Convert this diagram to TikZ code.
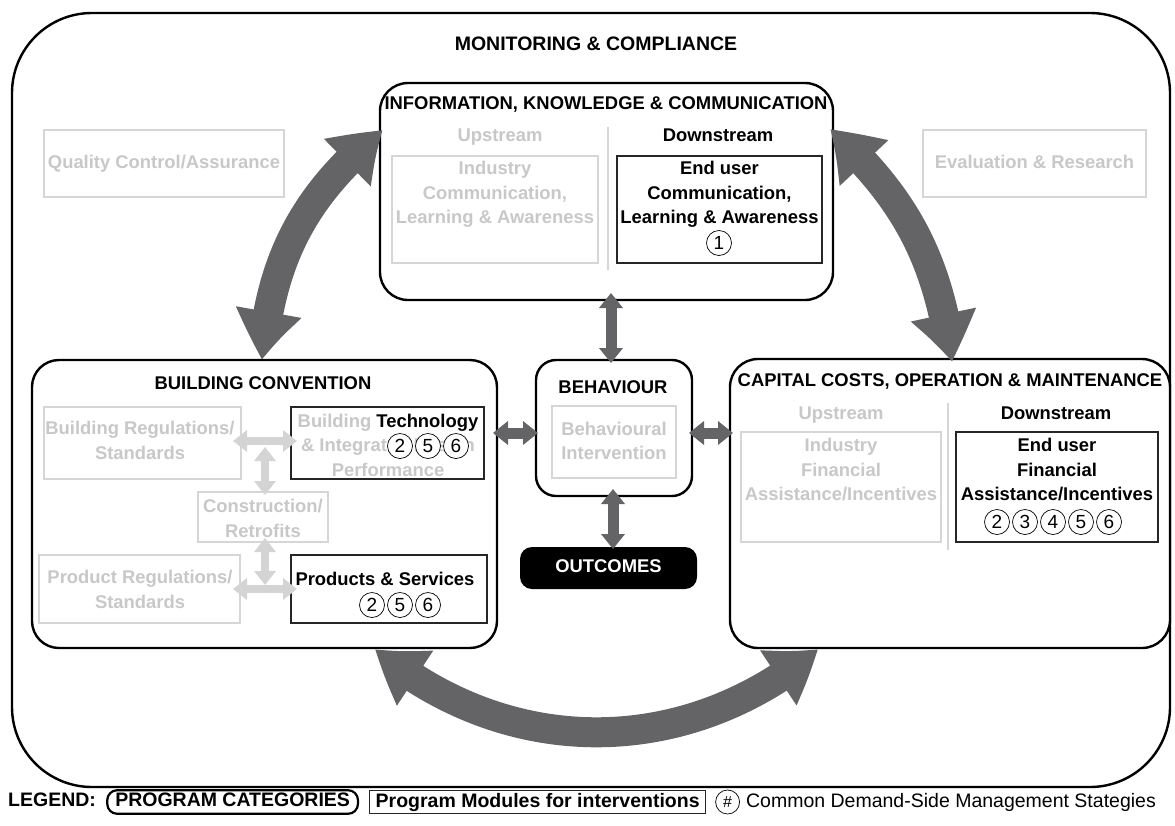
\documentclass[tikz,border=0pt]{standalone}
\usepackage{fontspec}
\setmainfont{Liberation Sans}
\usetikzlibrary{arrows.meta,bending,positioning}
\definecolor{arrowgray}{RGB}{100,100,102}
\definecolor{ghosttext}{RGB}{200,200,200}
\definecolor{ghostline}{RGB}{214,214,214}
\definecolor{lightarrow}{RGB}{212,212,212}
\newcommand\lnstrut{\rule[-4pt]{0pt}{17pt}}

\begin{document}
\begin{tikzpicture}[x=1pt,y=-1pt,
  txt/.style={font=\fontsize{18.4}{24.5}\selectfont\bfseries, align=center, inner sep=0pt, execute at begin node=\lnstrut},
  ghost/.style={txt, text=ghosttext},
  catbox/.style={draw=black, line width=2.4pt, fill=white, rounded corners=#1},
  catbox/.default=27pt,
  modbox/.style={draw=black!85, line width=1.2pt},
  ghostbox/.style={draw=ghostline, line width=1.2pt},
  cnum/.style={circle, draw=black, line width=0.7pt, fill=white, minimum size=25pt, inner sep=0pt, font=\fontsize{19}{19}\selectfont},
  bigarrow/.style={draw=arrowgray, line width=30pt, arrows={Triangle[width=62pt,length=50pt,bend]-Triangle[width=62pt,length=50pt,bend]}},
  darrow/.style={draw=arrowgray, line width=11pt, arrows={Triangle[width=23pt,length=15pt]-Triangle[width=23pt,length=15pt]}},
  larrow/.style={draw=lightarrow, line width=8pt, arrows={Triangle[width=21pt,length=14pt]-Triangle[width=21pt,length=14pt]}},
  divider/.style={draw=ghostline, line width=1.5pt},
  legbold/.style={font=\fontsize{19.5}{19.5}\selectfont\bfseries},
  legreg/.style={font=\fontsize{19.5}{19.5}\selectfont}
]
\useasboundingbox (0,0) rectangle (1175,825);

% outer frame: monitoring & compliance
\node[catbox=80pt, minimum width=1158pt, minimum height=774pt] (mc) at (591,400) {};
\node[txt, font=\fontsize{19.5}{24.5}\selectfont\bfseries] (mct) at (596,46) {MONITORING \& COMPLIANCE};
\node[ghostbox, ghost, minimum width=240pt, minimum height=67pt] (qc) at (164,163.5) {Quality Control/Assurance};
\node[ghostbox, ghost, minimum width=223pt, minimum height=67pt] (ev) at (1034.5,163.5) {Evaluation \& Research};

% information, knowledge & communication
\node[catbox=28pt, minimum width=453pt, minimum height=217pt] (info) at (606.5,191.5) {};
\node[txt] (infot) at (606,105) {INFORMATION, KNOWLEDGE \& COMMUNICATION};
\node[ghost] (infoup) at (500,137) {Upstream};
\node[txt] (infodn) at (718,137) {Downstream};
\draw[divider] (608,127) -- (608,270);
\node[ghostbox, minimum width=206pt, minimum height=107pt] (icla) at (495,209.5) {};
\node[ghost] (iclat) at (495,194.5) {Industry\\\lnstrut Communication,\\\lnstrut Learning \& Awareness};
\node[modbox, minimum width=205pt, minimum height=107pt] (ecla) at (719.5,209.5) {};
\node[txt] (eclat) at (719.5,194.5) {End user\\\lnstrut Communication,\\\lnstrut Learning \& Awareness};
\node[cnum] (s1) at (719,243) {1};

% building convention
\node[catbox=27pt, minimum width=465pt, minimum height=288pt] (bc) at (264.5,504) {};
\node[txt] (bct) at (263,385) {BUILDING CONVENTION};
\node[ghostbox, minimum width=197pt, minimum height=72pt] (br) at (142.5,443) {};
\node[ghost] (brt) at (140,442.5) {Building Regulations/\\\lnstrut Standards};
\node[modbox, minimum width=193pt, minimum height=72pt] (tech) at (387.5,443) {};
\node[ghost] (techt) at (388,447) {Building \textcolor{black}{Technology}\\\lnstrut \& Integrated Design\\\lnstrut Performance};
\node[cnum] (t2) at (400,446) {2};
\node[cnum] (t5) at (428,446) {5};
\node[cnum] (t6) at (456,446) {6};
\node[ghostbox, minimum width=130pt, minimum height=50pt] (cr) at (263,517) {};
\node[ghost] (crt) at (263,520.5) {Construction/\\\lnstrut Retrofits};
\node[ghostbox, minimum width=201pt, minimum height=68pt] (pr) at (139.5,589) {};
\node[ghost] (prt) at (140,591.5) {Product Regulations/\\\lnstrut Standards};
\node[modbox, minimum width=196pt, minimum height=68pt] (ps) at (389,589) {};
\node[txt] (pst) at (385,581) {Products \& Services};
\node[cnum] (p2) at (372,605) {2};
\node[cnum] (p5) at (400,605) {5};
\node[cnum] (p6) at (428,605) {6};

% links inside building convention
\coordinate (h1a) at (233,441); \coordinate (h1b) at (297,441);
\coordinate (v1a) at (265,447); \coordinate (v1b) at (265,495);
\coordinate (v2a) at (265,538); \coordinate (v2b) at (265,585);
\coordinate (h2a) at (233,589); \coordinate (h2b) at (297,589);
\draw[larrow] (h1a) -- (h1b);
\draw[larrow] (v1a) -- (v1b);
\draw[larrow] (v2a) -- (v2b);
\draw[larrow] (h2a) -- (h2b);

% capital costs, operation & maintenance
\node[catbox=28pt, minimum width=440pt, minimum height=289pt] (cc) at (950,503.5) {};
\node[txt] (cct) at (950,382) {CAPITAL COSTS, OPERATION \& MAINTENANCE};
\node[ghost] (ccup) at (841,415) {Upstream};
\node[txt] (ccdn) at (1056,415) {Downstream};
\draw[divider] (948,403) -- (948,550);
\node[ghostbox, minimum width=200pt, minimum height=110pt] (ifa) at (841,487) {};
\node[ghost] (ifat) at (841,471.5) {Industry\\\lnstrut Financial\\\lnstrut Assistance/Incentives};
\node[modbox, minimum width=202pt, minimum height=110pt] (efa) at (1057,487) {};
\node[txt] (efat) at (1057,471.5) {End user\\\lnstrut Financial\\\lnstrut Assistance/Incentives};
\node[cnum] (f2) at (997,522) {2};
\node[cnum] (f3) at (1025,522) {3};
\node[cnum] (f4) at (1053,522) {4};
\node[cnum] (f5) at (1081,522) {5};
\node[cnum] (f6) at (1109,522) {6};

% behaviour and outcomes
\node[catbox=20pt, minimum width=156pt, minimum height=136pt] (beh) at (614,428) {};
\node[txt] (beht) at (613,389) {BEHAVIOUR};
\node[ghostbox, minimum width=124pt, minimum height=72pt] (bi) at (614,442) {};
\node[ghost] (bit) at (614,443) {Behavioural\\\lnstrut Intervention};
\node[txt, fill=black, text=white, rounded corners=12pt, minimum width=177pt, minimum height=42pt] (out) at (608.5,568) {OUTCOMES};

% short links around behaviour
\coordinate (infoS) at (611,293); \coordinate (behN) at (611,363);
\coordinate (bcE) at (493,433);   \coordinate (behW) at (538,433);
\coordinate (behE) at (689,433);  \coordinate (ccW) at (733,433);
\coordinate (behS) at (613,489);  \coordinate (outN) at (613,549);
\draw[darrow] (infoS) -- (behN);
\draw[darrow] (bcE) -- (behW);
\draw[darrow] (behE) -- (ccW);
\draw[darrow] (behS) -- (outN);

% large cycle between the three categories
\coordinate (bcA) at (262,360);   \coordinate (infoA) at (383,130);
\coordinate (infoB) at (830,129); \coordinate (ccA) at (952,362);
\coordinate (bcB) at (375,649);   \coordinate (ccB) at (818,649);
\draw[bigarrow] (bcA) to[bend left=23] (infoA);
\draw[bigarrow] (infoB) to[bend left=20] (ccA);
\draw[bigarrow] (bcB) to[bend right=40] (ccB);

% legend
\node[txt, legbold, anchor=west] (lg) at (8,802) {LEGEND:};
\node[txt, legbold, catbox=10pt, line width=2.2pt, inner xsep=8pt, inner ysep=3pt, right=10pt of lg] (lpc) {PROGRAM CATEGORIES};
\node[txt, legbold, modbox, inner xsep=6pt, inner ysep=2pt, right=10pt of lpc] (lpm) {Program Modules for interventions};
\node[cnum, minimum size=24pt, font=\fontsize{16}{16}\selectfont, right=9pt of lpm] (lh) {\#};
\node[txt, legreg, right=6pt of lh] (lcd) {Common Demand-Side Management Stategies};
\end{tikzpicture}
\end{document}
